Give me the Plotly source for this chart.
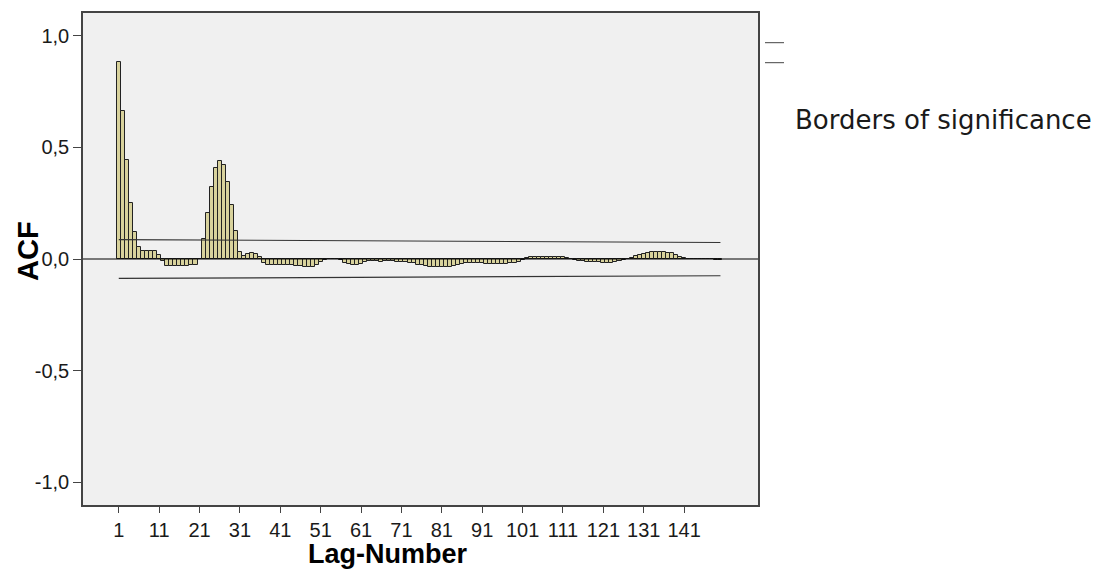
import plotly.graph_objects as go

# ---------------- data ----------------
lags = list(range(1, 151))
acf = [
    0.884, 0.664, 0.445, 0.253, 0.121, 0.055, 0.037, 0.037, 0.037, 0.037,   # 1-10
    0.019, -0.011, -0.030, -0.031, -0.031, -0.030, -0.030, -0.030, -0.029, -0.029,  # 11-20
    0.002, 0.091, 0.208, 0.324, 0.408, 0.438, 0.421, 0.346, 0.240, 0.124,   # 21-30
    0.033, 0.012, 0.024, 0.026, 0.023, 0.008, -0.018, -0.026, -0.028, -0.028,  # 31-40
    -0.027, -0.026, -0.026, -0.027, -0.030, -0.033, -0.037, -0.038, -0.035, -0.025,  # 41-50
    -0.012, -0.004, -0.001, 0.000, -0.002, -0.006, -0.016, -0.024, -0.028, -0.028,  # 51-60
    -0.022, -0.014, -0.011, -0.010, -0.011, -0.012, -0.011, -0.010, -0.011, -0.012,  # 61-70
    -0.013, -0.014, -0.016, -0.020, -0.025, -0.029, -0.032, -0.035, -0.036, -0.037,  # 71-80
    -0.037, -0.036, -0.034, -0.031, -0.028, -0.024, -0.020, -0.017, -0.016, -0.017,  # 81-90
    -0.019, -0.021, -0.023, -0.024, -0.024, -0.023, -0.022, -0.020, -0.017, -0.012,  # 91-100
    -0.005, 0.004, 0.008, 0.010, 0.011, 0.011, 0.011, 0.011, 0.010, 0.009,   # 101-110
    0.007, 0.004, -0.001, -0.006, -0.009, -0.011, -0.012, -0.012, -0.013, -0.014,  # 111-120
    -0.016, -0.017, -0.017, -0.015, -0.010, -0.004, 0.001, 0.006, 0.013, 0.019,  # 121-130
    0.024, 0.028, 0.030, 0.031, 0.031, 0.031, 0.029, 0.025, 0.018, 0.011,   # 131-140
    0.004, 0.001, 0.000, -0.001, -0.001, -0.001, -0.002, -0.002, -0.004, -0.005,  # 141-150
]
sig_lags = [1, 150]
sig_upper = [0.087, 0.074]
sig_lower = [-0.087, -0.075]

x_tickvals = list(range(1, 150, 10))
x_ticktext = [str(v) for v in x_tickvals]
y_tickvals = [-1.0, -0.5, 0.0, 0.5, 1.0]
y_ticktext = ["-1,0", "-0,5", "0,0", "0,5", "1,0"]

x_title = "Lag-Number"
y_title = "ACF"
legend_label = "Borders of significance"

# ---------------- layout geometry (pixels) ----------------
W, H = 1096, 572
L, R, T, B = 83, 758, 13, 505

def px_x(p):
    return (p - L) / (R - L)

def px_y(p):
    return (B - p) / (B - T)

fig = go.Figure()

fig.add_trace(go.Bar(
    x=lags, y=acf, width=1.0,
    marker=dict(color="#D8D29C", line=dict(color="#222222", width=1)),
    showlegend=False, hoverinfo="x+y",
))

fig.add_trace(go.Scatter(
    x=sig_lags, y=sig_upper, mode="lines",
    line=dict(color="#333333", width=1.2), showlegend=False,
))
fig.add_trace(go.Scatter(
    x=sig_lags, y=sig_lower, mode="lines",
    line=dict(color="#333333", width=1.2), showlegend=False,
))

axis_font = dict(family="Liberation Sans, Arial, sans-serif", size=20, color="#1a1a1a")

fig.update_layout(
    width=W, height=H,
    margin=dict(l=L, r=W - R, t=T, b=H - B, pad=0),
    paper_bgcolor="white",
    plot_bgcolor="#F0F0F0",
    bargap=0,
    xaxis=dict(
        range=[-7.86, 159.3], tickmode="array", tickvals=x_tickvals, ticktext=x_ticktext,
        ticks="outside", ticklen=6, tickwidth=1, tickcolor="#444444",
        showgrid=False, zeroline=False,
        showline=True, linecolor="#444444", linewidth=1.5, mirror=True,
        tickfont=axis_font,
    ),
    yaxis=dict(
        range=[-1.103, 1.103], tickmode="array", tickvals=y_tickvals, ticktext=y_ticktext,
        ticks="outside", ticklen=8, tickwidth=1, tickcolor="#444444",
        showgrid=False, zeroline=False,
        showline=True, linecolor="#444444", linewidth=1.5, mirror=True,
        tickfont=axis_font,
    ),
    shapes=[
        dict(type="line", xref="paper", yref="y", x0=0, x1=1, y0=0, y1=0,
             line=dict(color="#000000", width=1), layer="above"),
        dict(type="line", xref="paper", yref="paper",
             x0=px_x(765), x1=px_x(784), y0=px_y(42.7), y1=px_y(42.7),
             line=dict(color="#444444", width=1)),
        dict(type="line", xref="paper", yref="paper",
             x0=px_x(765), x1=px_x(784), y0=px_y(62.7), y1=px_y(62.7),
             line=dict(color="#444444", width=1)),
    ],
    annotations=[
        dict(text=legend_label, xref="paper", yref="paper",
             x=px_x(793), y=px_y(120), xanchor="left", yanchor="middle",
             showarrow=False,
             font=dict(family="DejaVu Sans", size=26, color="#1a1a1a")),
        dict(text="<b>" + x_title + "</b>", xref="paper", yref="paper",
             x=px_x(388), y=px_y(571), xanchor="center", yanchor="bottom",
             showarrow=False,
             font=dict(family="Liberation Sans, Arial, sans-serif", size=27, color="#000000")),
        dict(text="<b>" + y_title + "</b>", xref="paper", yref="paper",
             x=px_x(28), y=px_y(251), xanchor="center", yanchor="middle",
             textangle=-90, showarrow=False,
             font=dict(family="Liberation Sans, Arial, sans-serif", size=29, color="#000000")),
    ],
)

fig.write_html("out.html")
